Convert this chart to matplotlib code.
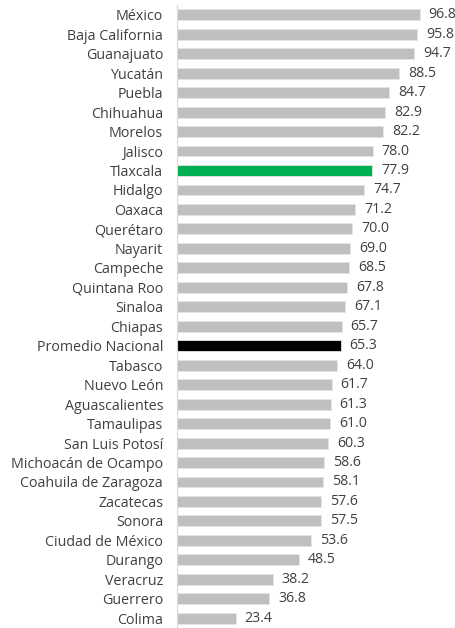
import matplotlib
matplotlib.use("Agg")
import matplotlib.pyplot as plt

## data (top to bottom)

estados = ["México", "Baja California", "Guanajuato", "Yucatán", "Puebla",
           "Chihuahua", "Morelos", "Jalisco", "Tlaxcala", "Hidalgo", "Oaxaca",
           "Querétaro", "Nayarit", "Campeche", "Quintana Roo", "Sinaloa",
           "Chiapas", "Promedio Nacional", "Tabasco", "Nuevo León",
           "Aguascalientes", "Tamaulipas", "San Luis Potosí",
           "Michoacán de Ocampo", "Coahuila de Zaragoza", "Zacatecas", "Sonora",
           "Ciudad de México", "Durango", "Veracruz", "Guerrero", "Colima"]
valores = [96.8, 95.8, 94.7, 88.5, 84.7, 82.9, 82.2, 78.0, 77.9, 74.7, 71.2,
           70.0, 69.0, 68.5, 67.8, 67.1, 65.7, 65.3, 64.0, 61.7, 61.3, 61.0,
           60.3, 58.6, 58.1, 57.6, 57.5, 53.6, 48.5, 38.2, 36.8, 23.4]
destacados = {"Tlaxcala": "#00b050", "Promedio Nacional": "#000000"}

plt.rcParams["font.family"] = ["Open Sans", "DejaVu Sans"]

colores = [destacados.get(e, "#bfbfbf") for e in estados]
pos = list(range(len(estados)))

fig = plt.figure(figsize=(4.56, 6.28), dpi=100)
ax = fig.add_axes([0.388, 0.0, 0.605, 0.992])

ax.barh(pos, valores, height=0.56, color=colores, edgecolor="#e4e4e4",
        linewidth=0.6)

for p, v in zip(pos, valores):
    ax.annotate(f"{v:.1f}", xy=(v, p), xytext=(6.5, 0), textcoords="offset points",
                va="center", ha="left", fontsize=10.2, color="#404040")

ax.set_yticks(pos)
ax.set_yticklabels(estados, fontsize=10.3, color="#404040")
ax.tick_params(axis="y", length=0, pad=10)
ax.set_xticks([])
ax.set_xlim(0, 110)
ax.set_ylim(len(estados) - 0.5, -0.5)

for s in ["top", "right", "bottom"]:
    ax.spines[s].set_visible(False)
ax.spines["left"].set_color("#d9d9d9")
ax.spines["left"].set_linewidth(0.8)

fig.savefig("out.png", dpi=100)
